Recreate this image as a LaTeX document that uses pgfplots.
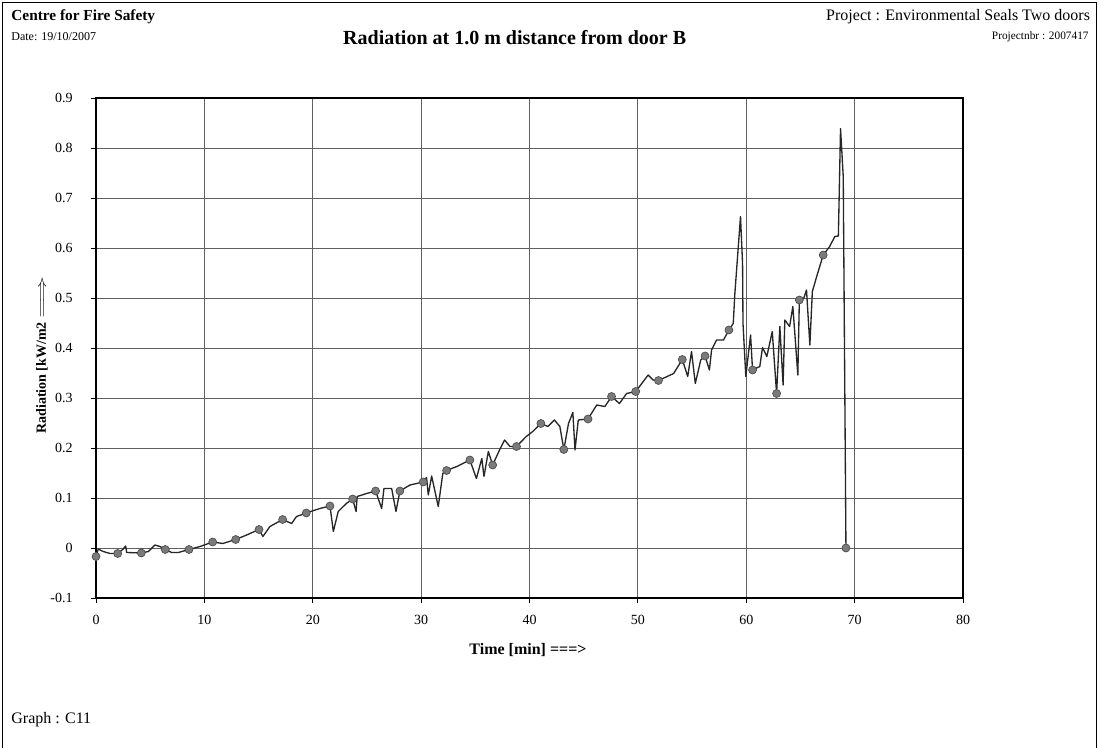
\documentclass[border=0pt]{standalone}
\usepackage{fontspec}
\setmainfont{Liberation Serif}
\usepackage{graphicx}
\usepackage{pgfplots}
\pgfplotsset{compat=1.18}
\definecolor{gridgray}{HTML}{606060}
\definecolor{markgray}{HTML}{7A7A7A}

% radiation curve, t [min] vs q [kW/m2]
\pgfplotstableread{
t q
0 -0.017
0.2 -0.002
0.67 -0.007
1.3 -0.011
2.0 -0.011
2.46 -0.003
2.74 0.004
2.83 -0.009
4.18 -0.010
4.83 -0.007
5.44 0.006
5.9 0.003
6.39 -0.003
6.98 -0.009
7.6 -0.009
8.58 -0.003
9.6 0.003
10.77 0.012
11.7 0.009
12.89 0.017
13.9 0.026
15.04 0.037
15.4 0.023
16.05 0.043
17.22 0.057
18.05 0.049
18.5 0.063
19.4 0.070
20.66 0.079
21.59 0.084
21.9 0.033
22.35 0.073
23.1 0.089
23.68 0.098
24.0 0.073
24.1 0.103
24.97 0.109
25.8 0.114
26.36 0.079
26.57 0.119
27.28 0.119
27.68 0.073
28.04 0.114
28.97 0.126
30.19 0.132
30.5 0.141
30.66 0.106
30.97 0.144
31.58 0.083
32.0 0.149
32.35 0.155
33.3 0.163
34.5 0.176
35.1 0.139
35.6 0.179
35.8 0.143
36.2 0.193
36.6 0.166
37.3 0.199
37.7 0.216
38.2 0.203
38.8 0.203
39.7 0.223
40.3 0.233
41.05 0.249
41.7 0.243
42.3 0.256
42.8 0.243
43.17 0.197
43.6 0.249
44.0 0.271
44.2 0.196
44.5 0.256
45.4 0.258
46.2 0.286
46.96 0.283
47.57 0.303
48.3 0.289
48.96 0.309
49.8 0.313
50.95 0.346
51.4 0.336
51.9 0.335
53.3 0.349
54.1 0.377
54.6 0.343
54.95 0.393
55.3 0.329
55.8 0.376
56.2 0.384
56.6 0.356
56.8 0.396
57.26 0.416
57.9 0.416
58.4 0.436
58.8 0.449
58.95 0.509
59.47 0.663
59.66 0.569
59.7 0.449
59.96 0.343
60.4 0.426
60.58 0.356
61.25 0.363
61.5 0.401
61.9 0.383
62.4 0.433
62.8 0.309
63.1 0.443
63.4 0.326
63.56 0.456
64.0 0.443
64.3 0.483
64.76 0.346
64.9 0.496
65.3 0.499
65.56 0.516
65.87 0.406
66.1 0.513
66.5 0.543
67.1 0.586
67.7 0.603
68.17 0.623
68.5 0.624
68.7 0.839
68.95 0.743
69.2 0.000
}\curve

% marked points (every ~2.2 min)
\pgfplotstableread{
t q
0 -0.017
2.0 -0.011
4.18 -0.010
6.39 -0.003
8.58 -0.003
10.77 0.012
12.89 0.017
15.04 0.037
17.22 0.057
19.4 0.070
21.59 0.084
23.68 0.098
25.8 0.114
28.04 0.114
30.19 0.132
32.35 0.155
34.5 0.176
36.6 0.166
38.8 0.203
41.05 0.249
43.17 0.197
45.4 0.258
47.57 0.303
49.8 0.313
51.9 0.335
54.1 0.377
56.2 0.384
58.4 0.436
60.58 0.356
62.8 0.309
64.9 0.496
67.1 0.586
69.2 0.000
}\marks

\begin{document}
\begin{tikzpicture}
\useasboundingbox (0,0) rectangle (825pt,560.25pt);
\draw[line width=0.8pt] (2pt,-5pt) -- (2pt,558.5pt) -- (822.5pt,558.5pt) -- (822.5pt,-5pt);

\node[anchor=west,font=\fontsize{11.5}{13}\selectfont\bfseries] at (5pt,547.5pt) {Centre for Fire Safety};
\node[anchor=west,font=\fontsize{9}{10}\selectfont] at (5pt,532.5pt) {Date: 19/10/2007};
\node[font=\fontsize{15}{17}\selectfont\bfseries] at (386pt,531.75pt) {Radiation at 1.0 m distance from door B};
\node[anchor=east,font=\fontsize{12}{14}\selectfont] at (821pt,547.5pt) {Project : Environmental Seals Two doors};
\node[anchor=east,font=\fontsize{8.5}{10}\selectfont] at (820pt,532.5pt) {Projectnbr : 2007417};
\node[anchor=west,font=\fontsize{12}{14}\selectfont] at (5pt,20.25pt) {Graph : C11};
\node[font=\fontsize{12}{14}\selectfont\bfseries] at (396pt,72.75pt) {Time [min] ===>};
\node[rotate=90,font=\fontsize{10.5}{12}\selectfont\bfseries] at (31.5pt,294pt)
  {Radiation [kW/m2 \scalebox{1.8}[1]{$\Longrightarrow$}};

\begin{axis}[
  at={(72pt,111.75pt)}, anchor=south west,
  scale only axis, width=650.25pt, height=375pt,
  xmin=0, xmax=80, ymin=-0.1, ymax=0.9,
  xtick={0,10,...,80},
  ytick={-0.1,0,0.1,0.2,0.3,0.4,0.5,0.6,0.7,0.8,0.9},
  yticklabels={-0.1,0,0.1,0.2,0.3,0.4,0.5,0.6,0.7,0.8,0.9},
  xticklabels={0,10,20,30,40,50,60,70,80},
  xtick pos=bottom, ytick pos=left,
  grid=major,
  grid style={gridgray, line width=0.6pt},
  axis line style={black, line width=0.8pt},
  tick align=outside, major tick length=4pt,
  tick style={black, line width=0.6pt},
  ticklabel style={font=\fontsize{10.5}{12}\selectfont},
  yticklabel style={xshift=-10pt},
  xticklabel style={yshift=-5pt},
  clip=false,
]
\addplot[black!85, line width=1pt, line join=round] table[x=t,y=q] {\curve};
\addplot[only marks, mark=*, mark size=3pt,
  mark options={fill=markgray, draw=black!70, line width=0.5pt}] table[x=t,y=q] {\marks};
\end{axis}
\end{tikzpicture}
\end{document}
